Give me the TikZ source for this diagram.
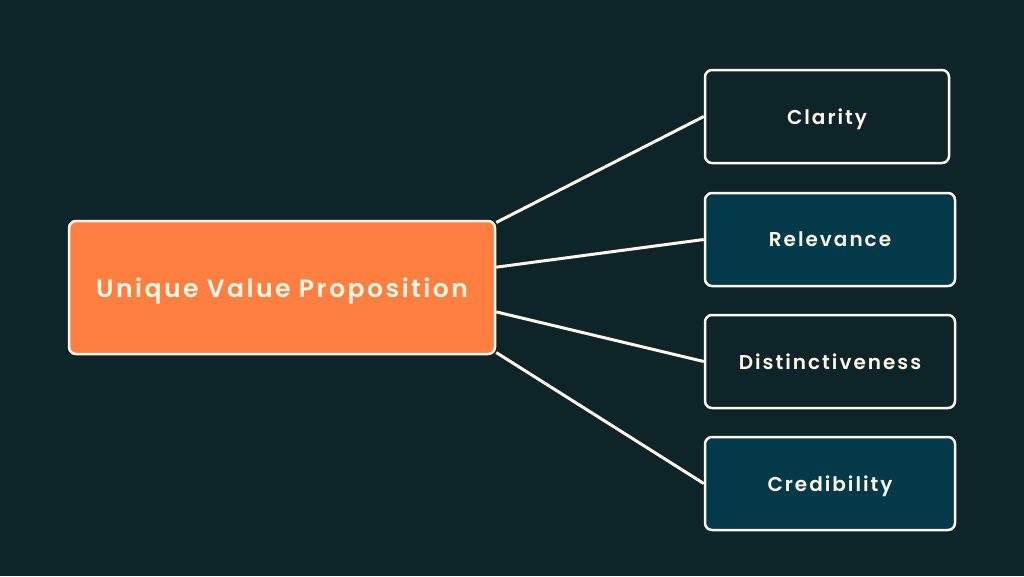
\documentclass[tikz,border=0pt]{standalone}
\usepackage{fontspec}
\setmainfont{Poppins}[LetterSpace=10, BoldFont={Poppins SemiBold}]
\usetikzlibrary{calc}

\definecolor{fond}{RGB}{13,36,41}
\definecolor{orange}{RGB}{255,127,65}
\definecolor{sarcelle}{RGB}{2,58,74}
\definecolor{creme}{RGB}{255,246,232}

\tikzset{
  boite/.style={draw=creme, line width=2.5pt, rounded corners=7pt,
    text=creme, font=\bfseries\fontsize{20}{22}\selectfont,
    inner sep=0pt, minimum height=93pt, text depth=0pt},
  lien/.style={draw=creme, line width=3pt}
}

\begin{document}
\begin{tikzpicture}[x=1pt,y=-1pt]

% Fond
\fill[fond] (0,0) rectangle (1024,576);

% Proposition centrale
\node[boite, fill=orange, minimum width=426pt, minimum height=133pt,
  font=\bfseries\fontsize{25}{28}\selectfont] (uvp) at (282,287.5)
{Unique Value Proposition};

% Les quatre qualites
\node[boite, fill=fond, minimum width=244pt] (clarity) at (827,116.5) {Clarity};
\node[boite, fill=sarcelle, minimum width=250pt] (relevance) at (830,239.5) {Relevance};
\node[boite, fill=fond, minimum width=250pt] (distinct) at (830,361.5) {Distinctiveness};
\node[boite, fill=sarcelle, minimum width=250pt] (credib) at (830,483.5) {Credibility};

\foreach \n/\f in {
clarity/0.02,relevance/0.35,
distinct/0.68,credib/0.98
}
{
\draw[lien] ($(uvp.north east)!\f!(uvp.south east)$) -- (\n.west);
}

\end{tikzpicture}
\end{document}
